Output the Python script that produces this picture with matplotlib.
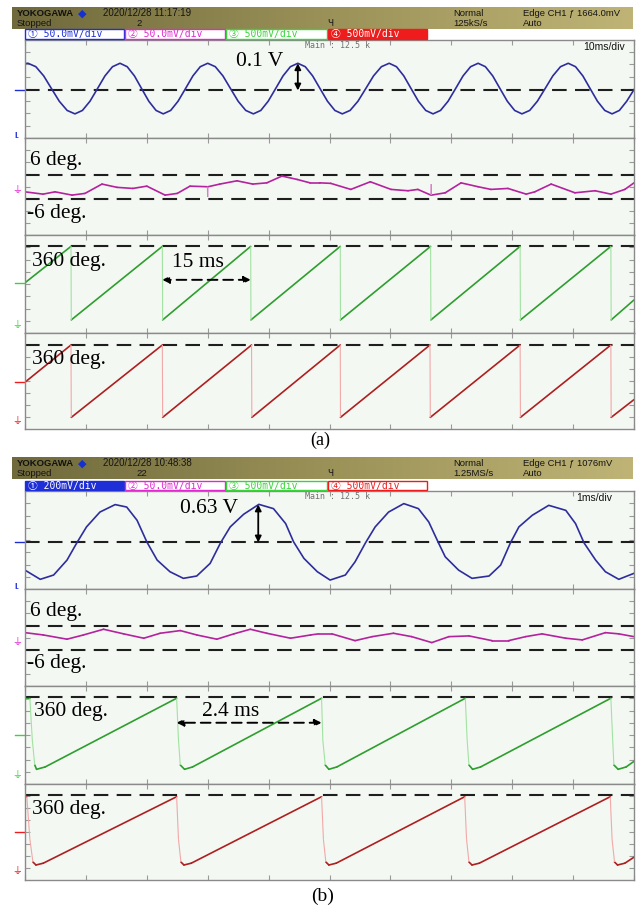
import matplotlib
matplotlib.use("Agg")
import matplotlib.pyplot as plt
import numpy as np
from matplotlib.collections import LineCollection
from matplotlib.patches import Rectangle
from matplotlib.colors import LinearSegmentedColormap
import matplotlib.transforms as mtransforms

# ===================== DATA =====================
# Panel (a): 10 ms/div, y in screen divisions (0..8) of each sub-panel
a_ch1_t = [0.0, 0.5, 1.78, 3.07, 4.35, 5.63, 6.92, 8.2,
           9.43, 10.67, 11.9, 13.13, 14.37, 15.6,
           16.78, 17.97, 19.15, 20.33, 21.52, 22.7,
           23.92, 25.13, 26.35, 27.57, 28.78, 30.0,
           31.25, 32.5, 33.75, 35.0, 36.25, 37.5,
           38.72, 39.93, 41.15, 42.37, 43.58, 44.8,
           46.02, 47.23, 48.45, 49.67, 50.88, 52.1,
           53.38, 54.67, 55.95, 57.23, 58.52, 59.8,
           61.0, 62.2, 63.4, 64.6, 65.8, 67.0,
           68.23, 69.47, 70.7, 71.93, 73.17, 74.4,
           75.6, 76.8, 78.0, 79.2, 80.4, 81.6,
           82.87, 84.13, 85.4, 86.67, 87.93, 89.2,
           90.4, 91.6, 92.8, 94.0, 95.2, 96.4,
           97.6, 98.8, 100.0]
a_ch1_v = [6.08, 6.1, 5.82, 5.07, 4.03, 3.0, 2.25, 1.97,
           2.25, 3.0, 4.03, 5.07, 5.82, 6.1,
           5.82, 5.07, 4.03, 3.0, 2.25, 1.97,
           2.25, 3.0, 4.03, 5.07, 5.82, 6.1,
           5.82, 5.07, 4.03, 3.0, 2.25, 1.97,
           2.25, 3.0, 4.03, 5.07, 5.82, 6.1,
           5.82, 5.07, 4.03, 3.0, 2.25, 1.97,
           2.25, 3.0, 4.03, 5.07, 5.82, 6.1,
           5.82, 5.07, 4.03, 3.0, 2.25, 1.97,
           2.25, 3.0, 4.03, 5.07, 5.82, 6.1,
           5.82, 5.07, 4.03, 3.0, 2.25, 1.97,
           2.25, 3.0, 4.03, 5.07, 5.82, 6.1,
           5.82, 5.07, 4.03, 3.0, 2.25, 1.97,
           2.25, 3.0, 3.95]
a_ch2_t = [0, 2.96, 4.93, 7.72, 9.85, 12.64, 15.1, 17.7, 20.0, 23.0,
           25.0, 27.1, 29.95, 30.0, 30.05, 32.0, 34.8, 37.4, 39.7, 42.2,
           44.7, 46.8, 48.4, 50.2, 53.5, 56.7, 60.1, 62.9, 64.5, 66.65,
           66.7, 66.75, 69.0, 71.6, 74.4, 76.5, 79.3, 82.3, 83.7, 86.4,
           90.3, 93.6, 96.2, 98.5, 100]
a_ch2_v = [3.56, 3.37, 3.56, 3.29, 3.43, 4.2, 3.93, 3.84, 4.03, 3.29,
           3.43, 4.03, 3.98, 3.13, 3.98, 4.2, 4.47, 4.2, 4.3, 4.86,
           4.58, 4.3, 4.3, 4.26, 3.76, 4.39, 3.76, 3.65, 3.76, 3.29,
           4.2, 3.29, 3.48, 4.3, 3.98, 3.76, 3.84, 3.37, 3.56, 4.2,
           3.48, 3.65, 3.37, 3.76, 4.3]
a_ch3_t = [0, 7.55, 7.6, 22.55, 22.6, 37.06, 37.1, 51.77, 51.8,
           66.6, 66.65, 81.3, 81.35, 96.2, 96.25, 100]
a_ch3_v = [4.1, 7.07, 1.07, 7.07, 1.07, 7.07, 1.07, 7.07, 1.07,
           7.07, 1.07, 7.07, 1.07, 7.07, 1.07, 2.7]
a_ch4_t = [0, 7.55, 7.6, 22.55, 22.6, 37.2, 37.25, 51.77, 51.8,
           66.5, 66.55, 81.3, 81.35, 96.2, 96.25, 100]
a_ch4_v = [3.9, 7.0, 0.97, 7.0, 0.97, 7.0, 0.97, 7.0, 0.97,
           7.0, 0.97, 7.0, 0.97, 7.0, 0.97, 2.45]
a_ref_levels = [[3.88], [4.94, 2.96], [7.07], [7.0]]
a_offsets = [3.88, None, 4.07, 3.9]
a_grounds = [0.2, 3.7, 0.66, 0.7]

# Panel (b): 1 ms/div
b_ch1_t = [0, 0.25, 0.47, 0.69, 0.85, 1.01, 1.23, 1.48, 1.67, 1.84,
           2.00, 2.17, 2.38, 2.60, 2.82, 3.04, 3.21, 3.37, 3.59, 3.84,
           4.08, 4.28, 4.41, 4.58, 4.80, 5.01, 5.26, 5.42, 5.59, 5.75,
           5.97, 6.22, 6.46, 6.63, 6.79, 6.90, 7.12, 7.34, 7.62, 7.81,
           7.97, 8.11, 8.33, 8.60, 8.88, 9.04, 9.18, 9.37, 9.53, 9.75, 10.0]
b_ch1_v = [1.54, 0.79, 1.14, 2.36, 3.76, 5.07, 6.28, 6.89, 6.69, 5.61,
           3.85, 2.36, 1.41, 0.87, 1.06, 2.09, 3.76, 5.07, 6.10, 6.91,
           6.56, 5.34, 3.85, 2.50, 1.41, 0.73, 1.14, 2.22, 3.76, 5.07,
           6.28, 6.97, 6.56, 5.47, 3.76, 2.63, 1.54, 0.87, 1.06, 1.95,
           3.76, 5.07, 6.02, 6.83, 6.42, 5.34, 3.76, 2.36, 1.41, 0.79, 1.28]
b_ch2_t = [0, 0.30, 0.69, 0.96, 1.29, 1.62, 1.95, 2.22, 2.55, 2.82,
           3.15, 3.43, 3.70, 3.97, 4.36, 4.69, 4.82, 5.04, 5.42, 5.70,
           6.05, 6.35, 6.68, 6.96, 7.29, 7.67, 7.94, 8.22, 8.49, 8.88,
           9.15, 9.53, 9.75, 10.0]
b_ch2_v = [4.40, 4.21, 3.86, 4.21, 4.68, 4.30, 3.94, 4.35, 4.57, 4.21,
           3.86, 4.30, 4.68, 4.35, 3.94, 4.21, 4.30, 4.30, 3.74, 4.07,
           4.35, 4.07, 3.58, 4.07, 4.13, 3.74, 3.74, 4.07, 4.30, 3.94,
           3.80, 4.40, 4.30, 4.07]
b_ch3_t = [0, 0.08, 0.12, 0.16, 0.19, 0.33, 2.49, 2.52, 2.55, 2.62, 2.75,
           4.87, 4.89, 4.93, 4.99, 5.12, 7.23, 7.26, 7.29, 7.35, 7.48,
           9.62, 9.65, 9.67, 9.74, 9.87, 10.0]
b_ch3_v = [6.95, 6.98, 3.59, 1.55, 1.2, 1.39, 7.0, 3.59, 1.55, 1.2, 1.39,
           7.0, 3.59, 1.55, 1.2, 1.39, 7.0, 3.59, 1.55, 1.2, 1.39,
           7.0, 3.59, 1.55, 1.2, 1.39, 1.85]
b_ch4_t = [0, 0.03, 0.08, 0.13, 0.18, 0.3, 2.49, 2.52, 2.56, 2.61, 2.73,
           4.87, 4.9, 4.94, 4.99, 5.11, 7.22, 7.25, 7.29, 7.34, 7.46,
           9.61, 9.64, 9.68, 9.73, 9.85, 10.0]
b_ch4_v = [6.9, 6.96, 3.4, 1.5, 1.25, 1.4, 6.94, 3.4, 1.5, 1.25, 1.4,
           6.94, 3.4, 1.5, 1.25, 1.4, 6.94, 3.4, 1.5, 1.25, 1.4,
           6.94, 3.4, 1.5, 1.25, 1.4, 1.9]
b_ref_levels = [[3.8], [4.98, 2.97], [7.13], [7.08]]
b_offsets = [3.8, None, 4.0, 4.0]
b_grounds = [0.2, 3.66, 0.7, 0.78]

# Header / channel texts
a_header = ["2020/12/28 11:17:19", "2", "125kS/s", "Edge CH1 \u0192 1664.0mV"]
b_header = ["2020/12/28 10:48:38", "22", "1.25MS/s", "Edge CH1 \u0192 1076mV"]
a_scales = ["50.0mV/div", "50.0mV/div", "500mV/div", "500mV/div"]
b_scales = ["200mV/div", "50.0mV/div", "500mV/div", "500mV/div"]
a_timebase = "10ms/div"
b_timebase = "1ms/div"

# ===================== STYLE / LAYOUT =====================
W, H = 638, 908
fig = plt.figure(figsize=(W / 100, H / 100), dpi=100)
fig.patch.set_facecolor("white")

C_BLUE = "#2d2d9c"
C_MAG = "#b4229e"
C_GRN = "#2e9e2e"
C_RED = "#ae1f1f"
C_GRN_L = "#a2e2a2"
C_RED_L = "#f2a8a8"
C_MAG_L = "#d87ccb"
BG = "#f4f8f3"
SERIF = "Liberation Serif"
SANS = "Liberation Sans"


def frect(x0, y0, x1, y1):
    return [x0 / W, 1 - y1 / H, (x1 - x0) / W, (y1 - y0) / H]


def ftext(x, y, s, **kw):
    fig.text(x / W, 1 - y / H, s, **kw)


hdr_cmap = LinearSegmentedColormap.from_list("hdr", ["#6f693b", "#9a9158", "#bfb476"])


def draw_header(y0, y1, hdr):
    axh = fig.add_axes(frect(12, y0, 633, y1))
    axh.imshow(np.linspace(0, 1, 256)[None, :], aspect="auto", cmap=hdr_cmap,
               extent=[0, 1, 0, 1])
    axh.set_axis_off()
    r1 = y0 + 6.5
    r2 = y0 + 16.5
    ftext(17, r1, "YOKOGAWA", fontsize=6.8, fontweight="bold", family=SANS,
          va="center", color="#111111")
    ftext(78, r1, "\u25c6", fontsize=8, va="center", color="#1530d0", family="DejaVu Sans")
    ftext(103, r1, hdr[0], fontsize=7, family=SANS, va="center", color="#151515")
    ftext(17, r2, "Stopped", fontsize=6.8, family=SANS, va="center", color="#151515")
    ftext(136, r2, hdr[1], fontsize=6.8, family=SANS, va="center", color="#151515")
    ftext(327, r2, "\u0427", fontsize=6.5, family="DejaVu Sans", va="center", color="#151515")
    ftext(453, r1, "Normal", fontsize=6.8, family=SANS, va="center", color="#151515")
    ftext(453, r2, hdr[2], fontsize=6.8, family=SANS, va="center", color="#151515")
    ftext(523, r1, hdr[3], fontsize=6.8, family=SANS, va="center", color="#151515")
    ftext(523, r2, "Auto", fontsize=6.8, family=SANS, va="center", color="#151515")


def draw_boxes(y0, y1, scales, filled):
    xs = [25, 125, 226, 328, 428]
    cols = ["#1f2fd8", "#e02ad0", "#3ad43a", "#ee1c1c"]
    for i in range(4):
        fc = cols[i] if filled[i] else "white"
        tc = "white" if filled[i] else cols[i]
        r = Rectangle((xs[i] / W, 1 - y1 / H), (xs[i + 1] - xs[i] - 1) / W, (y1 - y0) / H,
                      transform=fig.transFigure, facecolor=fc, edgecolor=cols[i], lw=1.0)
        fig.add_artist(r)
        ftext(xs[i] + 3, (y0 + y1) / 2, "\u2460\u2461\u2462\u2463"[i] + " " + scales[i],
              fontsize=7, family=["DejaVu Sans Mono", "Noto Sans CJK JP"],
              va="center", color=tc)


def make_panel(ys, xmax, xstep):
    axes = []
    for i in range(4):
        ax = fig.add_axes(frect(25, ys[i], 634, ys[i + 1]))
        ax.set_xlim(0, xmax)
        ax.set_ylim(0, 8)
        ax.set_facecolor(BG)
        ax.set_xticks(np.arange(0, xmax + 1e-9, xstep))
        ax.set_yticks(np.arange(1, 8))
        ax.tick_params(direction="in", length=3.5, width=0.8, colors="#9a9a9a",
                       top=True, right=True, labelbottom=False, labelleft=False)
        for s in ax.spines.values():
            s.set_color("#8a8a8a")
            s.set_linewidth(1.0)
        axes.append(ax)
    return axes


def draw_trace(ax, t, v, color, light=None, lw=1.2):
    t = np.asarray(t, float)
    v = np.asarray(v, float)
    pts = np.column_stack([t, v])
    segs = np.stack([pts[:-1], pts[1:]], axis=1)
    if light is None:
        ax.plot(t, v, color=color, lw=lw, solid_joinstyle="round")
        return
    dt = np.diff(t)
    dv = np.diff(v)
    steep = (np.abs(dv) > 0.5) & (np.abs(dv) / np.maximum(dt, 1e-9) > 20 * 8 / t.max())
    ax.add_collection(LineCollection(segs[~steep], colors=color, linewidths=lw,
                                     capstyle="round", joinstyle="round"))
    ax.add_collection(LineCollection(segs[steep], colors=light, linewidths=0.8))


def draw_markers(axes, offsets, grounds, colors):
    for i, ax in enumerate(axes):
        tr = mtransforms.blended_transform_factory(ax.transAxes, ax.transData)
        if offsets[i] is not None:
            ax.plot([-0.017, -0.002], [offsets[i], offsets[i]], color=colors[i], lw=1.0,
                    transform=tr, clip_on=False)
        if i == 0:
            ax.text(-0.013, grounds[i], "I.", transform=tr, fontsize=6.5, fontweight="bold",
                    color=colors[i], va="center", ha="center", family=SANS)
        else:
            ax.text(-0.013, grounds[i], "\u23da", transform=tr, fontsize=7,
                    color=colors[i], va="center", ha="center",
                    family=["DejaVu Sans", "Noto Sans CJK JP"])


def ref_lines(axes, levels):
    for ax, lv in zip(axes, levels):
        for y in lv:
            ax.axhline(y, color="#1e1e1e", lw=1.5, dashes=(7, 4))


light_cols = [None, C_MAG_L, C_GRN_L, C_RED_L]
trace_cols = [C_BLUE, C_MAG, C_GRN, C_RED]
marker_cols = ["#1f2fd8", "#e02ad0", "#3ad43a", "#ee1c1c"]

# ---------------- Panel (a) ----------------
draw_header(6.7, 29.3, a_header)
draw_boxes(29.5, 39.3, a_scales, [False, False, False, True])
axa = make_panel([40, 138, 235, 333, 429], 100, 10)
ref_lines(axa, a_ref_levels)
for ax, (t, v), c, lc in zip(axa, [(a_ch1_t, a_ch1_v), (a_ch2_t, a_ch2_v),
                                   (a_ch3_t, a_ch3_v), (a_ch4_t, a_ch4_v)],
                             trace_cols, light_cols):
    draw_trace(ax, t, v, c, lc)
draw_markers(axa, a_offsets, a_grounds, marker_cols)

axa[0].text(0.46, 0.945, "Main : 12.5 k", transform=axa[0].transAxes, fontsize=6,
            color="#707070", family="DejaVu Sans Mono", va="center", ha="left")
axa[0].text(0.985, 0.93, a_timebase, transform=axa[0].transAxes, fontsize=7.5,
            color="#111111", family=SANS, va="center", ha="right")
axa[0].text(34.6, 6.25, "0.1 V", fontsize=15.5, family=SERIF, va="center")
axa[0].annotate("", xy=(44.8, 6.1), xytext=(44.8, 3.88),
                arrowprops=dict(arrowstyle="<|-|>", color="black", lw=1.3,
                                shrinkA=0, shrinkB=0, mutation_scale=9))
axa[1].text(0.8, 6.17, "6 deg.", fontsize=15.5, family=SERIF, va="center")
axa[1].text(0.25, 1.79, "-6 deg.", fontsize=15.5, family=SERIF, va="center")
axa[2].text(1.2, 5.84, "360 deg.", fontsize=15.5, family=SERIF, va="center")
axa[2].text(24.1, 5.74, "15 ms", fontsize=15.5, family=SERIF, va="center")
axa[2].annotate("", xy=(22.55, 4.34), xytext=(37.06, 4.34),
                arrowprops=dict(arrowstyle="<|-|>", color="black", lw=1.4, ls=(0, (5, 3)),
                                shrinkA=0, shrinkB=0, mutation_scale=10))
axa[3].text(1.1, 5.83, "360 deg.", fontsize=15.5, family=SERIF, va="center")
ftext(320, 440, "(a)", fontsize=13, family=SERIF, ha="center", va="center")

# ---------------- Panel (b) ----------------
draw_header(456.7, 479.3, b_header)
draw_boxes(480.7, 490.5, b_scales, [True, False, False, False])
axb = make_panel([491, 589, 686, 784, 880], 10, 1)
ref_lines(axb, b_ref_levels)
for ax, (t, v), c, lc in zip(axb, [(b_ch1_t, b_ch1_v), (b_ch2_t, b_ch2_v),
                                   (b_ch3_t, b_ch3_v), (b_ch4_t, b_ch4_v)],
                             trace_cols, light_cols):
    draw_trace(ax, t, v, c, lc)
draw_markers(axb, b_offsets, b_grounds, marker_cols)

axb[0].text(0.46, 0.94, "Main : 12.5 k", transform=axb[0].transAxes, fontsize=6,
            color="#707070", family="DejaVu Sans Mono", va="center", ha="left")
axb[0].text(0.965, 0.925, b_timebase, transform=axb[0].transAxes, fontsize=7.5,
            color="#111111", family=SANS, va="center", ha="right")
axb[0].text(2.55, 6.56, "0.63 V", fontsize=15.5, family=SERIF, va="center")
axb[0].annotate("", xy=(3.83, 6.9), xytext=(3.83, 3.8),
                arrowprops=dict(arrowstyle="<|-|>", color="black", lw=1.3,
                                shrinkA=0, shrinkB=0, mutation_scale=9))
axb[1].text(0.09, 6.14, "6 deg.", fontsize=15.5, family=SERIF, va="center")
axb[1].text(0.03, 1.87, "-6 deg.", fontsize=15.5, family=SERIF, va="center")
axb[2].text(0.14, 5.9, "360 deg.", fontsize=15.5, family=SERIF, va="center")
axb[2].text(2.9, 5.9, "2.4 ms", fontsize=15.5, family=SERIF, va="center")
axb[2].annotate("", xy=(2.49, 5.0), xytext=(4.87, 5.0),
                arrowprops=dict(arrowstyle="<|-|>", color="black", lw=1.4, ls=(0, (5, 3)),
                                shrinkA=0, shrinkB=0, mutation_scale=10))
axb[3].text(0.12, 5.9, "360 deg.", fontsize=15.5, family=SERIF, va="center")
ftext(323, 896, "(b)", fontsize=14, family=SERIF, ha="center", va="center")

fig.savefig("out.png", dpi=100, facecolor="white")
